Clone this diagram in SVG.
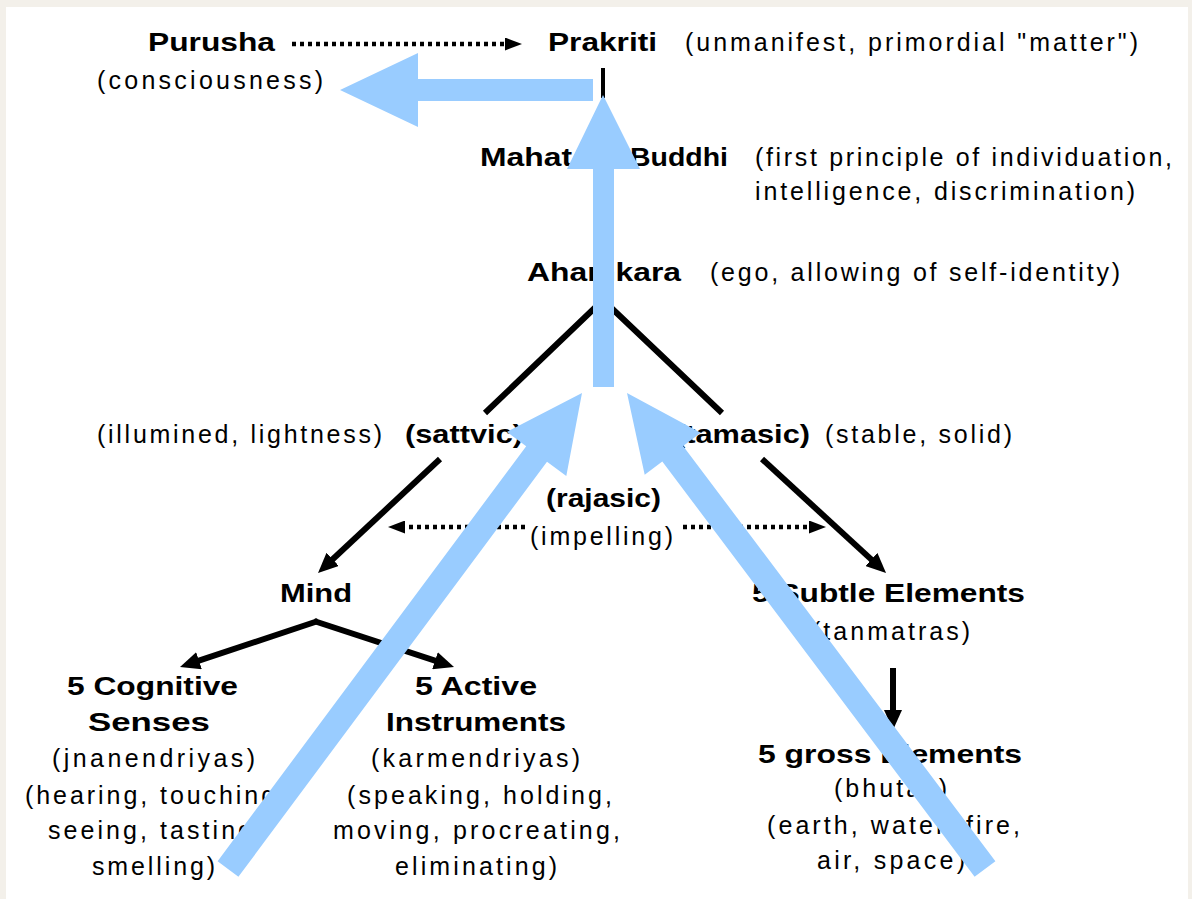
<svg xmlns="http://www.w3.org/2000/svg" width="1192" height="899" viewBox="0 0 1192 899">
  <style>
    text { font-family: "Liberation Sans", Arial, sans-serif; font-size: 25px; fill: #000; }
    .b { font-weight: bold; font-size: 26px; }
    .ln { stroke: #000; stroke-width: 6; fill: none; }
    .dot { stroke: #000; stroke-width: 4.5; stroke-dasharray: 4 4; fill: none; }
    .flow { fill: #99ccff; stroke: none; }
  </style>
  <defs>
    <marker id="head" markerUnits="userSpaceOnUse" markerWidth="20" markerHeight="18" refX="8" refY="9" orient="auto">
      <path d="M0,0 L20,9 L0,18 z" fill="#000"/>
    </marker>
    <marker id="dhead" markerUnits="userSpaceOnUse" markerWidth="17" markerHeight="13" refX="5" refY="6.5" orient="auto">
      <path d="M0,0 L17,6.5 L0,13 z" fill="#000"/>
    </marker>
  </defs>

  <!-- page frame -->
  <rect x="0" y="0" width="1192" height="899" fill="#f3f0ea"/>
  <rect x="6" y="7" width="1182" height="892" fill="#fff"/>

  <!-- nodes -->
  <g id="purusha">
    <text class="b" x="148" y="51" textLength="127" lengthAdjust="spacingAndGlyphs">Purusha</text>
    <text x="97" y="89" textLength="226" lengthAdjust="spacing">(consciousness)</text>
  </g>
  <g id="prakriti">
    <text class="b" x="548" y="51" textLength="109" lengthAdjust="spacingAndGlyphs">Prakriti</text>
    <text x="685" y="51" textLength="453" lengthAdjust="spacing">(unmanifest, primordial "matter")</text>
  </g>
  <g id="mahat">
    <text class="b" x="480" y="166" textLength="92" lengthAdjust="spacingAndGlyphs">Mahat</text>
    <text class="b" x="630" y="166" textLength="98" lengthAdjust="spacingAndGlyphs">Buddhi</text>
    <text x="755" y="166" textLength="417" lengthAdjust="spacing">(first principle of individuation,</text>
    <text x="755" y="200" textLength="380" lengthAdjust="spacing">intelligence, discrimination)</text>
  </g>
  <g id="ahamkara">
    <text class="b" x="527" y="281" textLength="154" lengthAdjust="spacingAndGlyphs">Ahamkara</text>
    <text x="710" y="281" textLength="410" lengthAdjust="spacing">(ego, allowing of self-identity)</text>
  </g>
  <g id="sattvic">
    <text x="97" y="443" textLength="285" lengthAdjust="spacing">(illumined, lightness)</text>
    <text class="b" x="405" y="443" textLength="118" lengthAdjust="spacingAndGlyphs">(sattvic)</text>
  </g>
  <g id="tamasic">
    <text class="b" x="675" y="443" textLength="135" lengthAdjust="spacingAndGlyphs">(tamasic)</text>
    <text x="825" y="443" textLength="187" lengthAdjust="spacing">(stable, solid)</text>
  </g>
  <g id="rajasic">
    <text class="b" x="546" y="507" textLength="115" lengthAdjust="spacingAndGlyphs">(rajasic)</text>
    <text x="530" y="545" textLength="143" lengthAdjust="spacing">(impelling)</text>
  </g>
  <g id="mind">
    <text class="b" x="280" y="602" textLength="72" lengthAdjust="spacingAndGlyphs">Mind</text>
  </g>
  <g id="subtle-elements">
    <text class="b" x="752" y="602" textLength="273" lengthAdjust="spacingAndGlyphs">5 Subtle Elements</text>
    <text x="812" y="640" textLength="158" lengthAdjust="spacing">(tanmatras)</text>
  </g>
  <g id="cognitive-senses">
    <text class="b" x="67" y="695" textLength="171" lengthAdjust="spacingAndGlyphs">5 Cognitive</text>
    <text class="b" x="88" y="731" textLength="122" lengthAdjust="spacingAndGlyphs">Senses</text>
    <text x="52" y="767" textLength="203" lengthAdjust="spacing">(jnanendriyas)</text>
    <text x="25" y="804" textLength="260" lengthAdjust="spacing">(hearing, touching,</text>
    <text x="48" y="839" textLength="214" lengthAdjust="spacing">seeing, tasting,</text>
    <text x="92" y="875" textLength="123" lengthAdjust="spacing">smelling)</text>
  </g>
  <g id="active-instruments">
    <text class="b" x="415" y="695" textLength="122" lengthAdjust="spacingAndGlyphs">5 Active</text>
    <text class="b" x="386" y="731" textLength="180" lengthAdjust="spacingAndGlyphs">Instruments</text>
    <text x="371" y="767" textLength="209" lengthAdjust="spacing">(karmendriyas)</text>
    <text x="347" y="804" textLength="265" lengthAdjust="spacing">(speaking, holding,</text>
    <text x="333" y="839" textLength="287" lengthAdjust="spacing">moving, procreating,</text>
    <text x="395" y="875" textLength="162" lengthAdjust="spacing">eliminating)</text>
  </g>
  <g id="gross-elements">
    <text class="b" x="758" y="763" textLength="264" lengthAdjust="spacingAndGlyphs">5 gross Elements</text>
    <text x="834" y="797" textLength="113" lengthAdjust="spacing">(bhutas)</text>
    <text x="767" y="834" textLength="253" lengthAdjust="spacing">(earth, water, fire,</text>
    <text x="817" y="869" textLength="148" lengthAdjust="spacing">air, space)</text>
  </g>

  <!-- connectors -->
  <g id="connectors">
    <!-- dotted relations -->
    <line class="dot" x1="292" y1="44" x2="510" y2="44" marker-end="url(#dhead)"/>
    <line class="dot" x1="525" y1="527" x2="400" y2="527" marker-end="url(#dhead)"/>
    <line class="dot" x1="683" y1="527" x2="814" y2="527" marker-end="url(#dhead)"/>

    <!-- evolution (black) -->
    <line x1="603" y1="68" x2="603" y2="98" stroke="#000" stroke-width="4"/>
    <polyline class="ln" points="485,413 603,300 722,413"/>
    <line class="ln" x1="440" y1="459" x2="326.8" y2="564.8" marker-end="url(#head)"/>
    <line class="ln" x1="762" y1="459" x2="877.2" y2="564.9" marker-end="url(#head)"/>
    <line class="ln" x1="318" y1="621" x2="191.4" y2="663.2" stroke-width="5" marker-end="url(#head)"/>
    <line class="ln" x1="314" y1="621" x2="442.6" y2="663.2" stroke-width="5" marker-end="url(#head)"/>
    <line class="ln" x1="893" y1="668" x2="893" y2="718" marker-end="url(#head)"/>

    <!-- involution (blue) -->
    <polygon class="flow" points="340,90 418,53 418,79 593,79 593,101 418,101 418,127"/>
    <polygon class="flow" points="603,95 640,169 614,169 614,387 593,387 593,169 567,169"/>
    <polygon class="flow" points="582,393 566.3,476.1 547,461.8 238.4,876.8 217.6,861.2 526.2,446.2 506.9,431.9"/>
    <polygon class="flow" points="627,393 700.7,432.7 683.1,445.9 995.4,861.2 974.6,876.8 662.3,461.5 644.7,474.7"/>
  </g>
</svg>
